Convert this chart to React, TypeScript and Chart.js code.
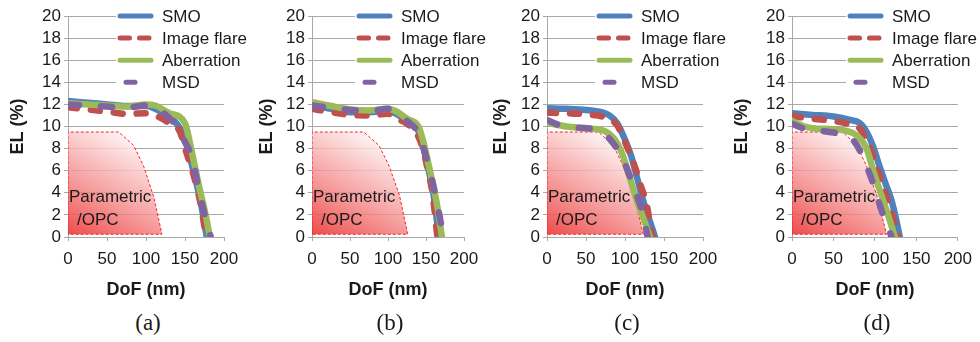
import React, { useEffect, useRef } from 'react';
import { Chart, registerables } from 'chart.js';

Chart.register(...registerables);

type Pt = [number, number];

// Each series: [DoF (nm), EL (%)]
const smoA: Pt[] = [[0, 12.3], [25, 12.15], [50, 12.0], [75, 11.85], [100, 11.85], [120, 11.3], [140, 10.2], [150, 8.9], [160, 6.2], [170, 3.2], [178, 0]];
const flareA: Pt[] = [[0, 11.75], [25, 11.55], [50, 11.35], [75, 11.15], [100, 11.2], [115, 10.9], [130, 10.3], [143, 9.6], [152, 7.6], [161, 5.6], [170, 3.0], [177, 0]];
const aberA: Pt[] = [[0, 12.1], [25, 12.0], [50, 11.9], [75, 11.8], [100, 12.0], [112, 11.9], [130, 11.2], [150, 10.3], [159, 7.6], [168, 4.6], [177, 1.8], [182, 0]];
const msdA: Pt[] = [[0, 12.0], [25, 11.9], [50, 11.8], [75, 11.7], [100, 11.9], [112, 11.7], [128, 10.9], [140, 9.9], [150, 8.6], [159, 7.2], [168, 4.2], [176, 1.8], [183, 0]];

const smoB: Pt[] = [[0, 11.9], [25, 11.6], [50, 11.3], [75, 11.3], [100, 11.4], [112, 11.1], [125, 10.5], [140, 9.6], [152, 6.5], [160, 3.8], [167, 0]];
const flareB: Pt[] = [[0, 11.6], [25, 11.3], [50, 11.05], [75, 11.0], [100, 11.15], [112, 10.7], [125, 10.25], [138, 9.35], [145, 8.2], [152, 6.2], [158.6, 3.9], [165, 0]];
const aberB: Pt[] = [[0, 12.2], [25, 11.85], [50, 11.55], [75, 11.45], [100, 11.6], [110, 11.4], [125, 10.7], [140, 10.0], [147, 8.5], [154, 6.35], [160, 4.5], [165, 2.7], [171, 0]];
const msdB: Pt[] = [[0, 11.9], [25, 11.7], [50, 11.5], [75, 11.4], [100, 11.6], [110, 11.3], [125, 10.5], [139, 9.5], [152, 6.8], [163, 3.6], [173, 0]];

const smoC: Pt[] = [[0, 11.65], [25, 11.6], [50, 11.5], [70, 11.3], [80, 11.0], [90, 10.3], [100, 8.8], [108, 7.3], [115, 5.5], [123, 3.35], [131, 1.6], [138.5, 0]];
const flareC: Pt[] = [[0, 11.25], [25, 11.2], [50, 11.1], [75, 10.8], [90, 10.1], [100, 8.6], [112.5, 6.4], [120, 4.7], [127.5, 3.0], [135, 0]];
const aberC: Pt[] = [[0, 10.35], [25, 10.0], [50, 9.85], [65, 9.75], [75, 9.55], [82, 9.2], [90, 8.5], [97.6, 7.3], [106, 5.4], [114.6, 3.4], [124, 1.6], [132, 0]];
const msdC: Pt[] = [[0, 10.6], [15, 10.15], [40, 9.9], [60, 9.75], [70, 9.5], [80, 8.9], [95.8, 7.27], [106.5, 5.45], [118, 3.2], [124, 1.8], [129, 0]];

const smoD: Pt[] = [[0, 11.2], [25, 11.05], [50, 10.9], [70, 10.6], [82, 10.3], [90, 9.5], [98, 8.15], [106, 6.3], [113, 4.8], [120, 3.3], [125, 1.8], [130, 0]];
const flareD: Pt[] = [[0, 10.95], [25, 10.7], [50, 10.5], [70, 10.2], [80, 9.95], [94, 8.1], [106, 5.4], [118, 2.7], [128, 0]];
const aberD: Pt[] = [[0, 10.5], [15, 10.0], [25, 9.85], [50, 9.75], [66, 9.6], [78, 9.2], [90, 8.0], [98, 6.0], [110, 3.3], [118, 1.5], [124, 0]];
const msdD: Pt[] = [[0, 10.25], [15, 9.8], [25, 9.7], [50, 9.45], [62, 9.3], [72, 8.9], [82, 7.8], [98, 4.8], [108, 2.4], [114, 1.3], [120, 0]];

// Parametric/OPC process window outline (closed polygon)
const regionA: Pt[] = [[0, 0.25], [0, 9.5], [65, 9.5], [84, 8.3], [97, 6.4], [110, 3.6], [120.5, 0.25], [0, 0.25]];
const regionB: Pt[] = [[0, 0.25], [0, 9.5], [68, 9.5], [88, 8.3], [101, 6.5], [115, 3.8], [126, 0.25], [0, 0.25]];
const regionC: Pt[] = [[0, 0.25], [0, 9.5], [66, 9.5], [85, 8.3], [98, 6.4], [112, 3.6], [123.5, 0.25], [0, 0.25]];
const regionD: Pt[] = [[0, 0.25], [0, 9.5], [61, 9.5], [78, 8.3], [90, 6.4], [103, 3.6], [114, 0.25], [0, 0.25]];

const SERIES_NAMES = ['SMO', 'Image flare', 'Aberration', 'MSD'];
const PANEL_TAGS = ['(a)', '(b)', '(c)', '(d)'];
const REGION_TEXT = ['Parametric', '/OPC'];
const X_TICKS = [0, 50, 100, 150, 200];
const Y_TICKS = [0, 2, 4, 6, 8, 10, 12, 14, 16, 18, 20];
const X_TITLE = 'DoF (nm)';
const Y_TITLE = 'EL (%)';

const SERIES_COLORS = ['#4F81BD', '#C0504D', '#9BBB59', '#8064A2'];
const SERIES_DASH: number[][] = [[], [9, 14], [], [11, 22]];
const LEGEND_DASH: number[][] = [[], [9.5, 10], [], [9, 60]];
const LEGEND_START: number[] = [2, 2, 2, 8];
const SANS = '"Liberation Sans", Arial, sans-serif';
const INK = '#1a1a1a';
const GRID = '#a8a8a8';

const PLOT_TOP = 16;
const PLOT_BOTTOM = 237;
const CANVAS_H = 305;
const Y_AXIS_W = 68;

interface PanelSpec {
  tag: string;
  series: Pt[][];
  region: Pt[];
  plotLeft: number;
  plotRight: number;
  rightRoom: number;
  yTitlePad: number;
  legendOffset: number;
}

const PANELS: PanelSpec[] = [
  { tag: PANEL_TAGS[0], series: [smoA, flareA, aberA, msdA], region: regionA, plotLeft: 68, plotRight: 224, rightRoom: 28, yTitlePad: 7.2, legendOffset: 50 },
  { tag: PANEL_TAGS[1], series: [smoB, flareB, aberB, msdB], region: regionB, plotLeft: 312, plotRight: 464, rightRoom: 28, yTitlePad: 11.9, legendOffset: 45 },
  { tag: PANEL_TAGS[2], series: [smoC, flareC, aberC, msdC], region: regionC, plotLeft: 547, plotRight: 703, rightRoom: 28, yTitlePad: 10.9, legendOffset: 50 },
  { tag: PANEL_TAGS[3], series: [smoD, flareD, aberD, msdD], region: regionD, plotLeft: 792, plotRight: 958, rightRoom: 22, yTitlePad: 6.9, legendOffset: 56 },
];

// Legend drawn inside the plot, on a white box, one row per upper gridline
const legendPlugin = {
  id: 'panelLegend',
  afterDraw(chart: any, _args: unknown, opts: { offset: number }) {
    const { ctx, chartArea, scales } = chart;
    const y = scales.y;
    const sx = chartArea.left + opts.offset;
    const rows = SERIES_NAMES.map((_, i) => y.getPixelForValue(Y_TICKS[Y_TICKS.length - 1 - i]));
    ctx.save();
    ctx.fillStyle = '#ffffff';
    ctx.fillRect(sx - 2, rows[0] - 10, chart.width - sx + 2, rows[3] - rows[0] + 20);
    SERIES_NAMES.forEach((name, i) => {
      const yy = rows[i];
      ctx.beginPath();
      ctx.setLineDash(LEGEND_DASH[i]);
      ctx.lineCap = 'round';
      ctx.lineWidth = 5;
      ctx.strokeStyle = SERIES_COLORS[i];
      ctx.moveTo(sx + LEGEND_START[i], yy);
      ctx.lineTo(sx + 33, yy);
      ctx.stroke();
      ctx.setLineDash([]);
      ctx.fillStyle = INK;
      ctx.font = `17px ${SANS}`;
      ctx.textBaseline = 'middle';
      ctx.textAlign = 'left';
      ctx.fillText(name, sx + 44, yy + 1);
    });
    ctx.restore();
  },
};

// Label of the Parametric/OPC window
const regionLabelPlugin = {
  id: 'regionLabel',
  afterDatasetsDraw(chart: any) {
    const { ctx, chartArea } = chart;
    ctx.save();
    ctx.fillStyle = INK;
    ctx.font = `17px ${SANS}`;
    ctx.textBaseline = 'middle';
    ctx.textAlign = 'left';
    ctx.fillText(REGION_TEXT[0], chartArea.left + 1, chartArea.bottom - 40);
    ctx.fillText(REGION_TEXT[1], chartArea.left + 9, chartArea.bottom - 17);
    ctx.restore();
  },
};

function regionFill(c: any) {
  const chart = c.chart;
  const area = chart.chartArea;
  if (!area) return 'rgba(240,90,90,0.6)';
  const g = chart.ctx.createLinearGradient(area.left, area.bottom, area.left + 62, area.bottom - 108);
  g.addColorStop(0, 'rgba(236,52,52,0.9)');
  g.addColorStop(0.45, 'rgba(244,140,140,0.82)');
  g.addColorStop(1, 'rgba(255,255,255,0.85)');
  return g;
}

function buildConfig(spec: PanelSpec): any {
  const lines = spec.series.map((pts, i) => ({
    type: 'line',
    label: SERIES_NAMES[i],
    data: pts.map(([x, y]) => ({ x, y })),
    borderColor: SERIES_COLORS[i],
    backgroundColor: SERIES_COLORS[i],
    borderWidth: 6.5,
    borderDash: SERIES_DASH[i],
    borderCapStyle: 'round',
    borderJoinStyle: 'round',
    pointRadius: 0,
    pointHoverRadius: 0,
    cubicInterpolationMode: 'monotone',
    fill: false,
    order: 3 - i,
  }));
  const region = {
    type: 'line',
    label: REGION_TEXT.join(''),
    data: spec.region.map(([x, y]) => ({ x, y })),
    borderColor: '#ff2020',
    borderWidth: 1,
    borderDash: [3, 2],
    pointRadius: 0,
    pointHoverRadius: 0,
    tension: 0,
    fill: 'shape',
    backgroundColor: regionFill,
    order: 10,
  };
  return {
    type: 'line',
    data: { datasets: [...lines, region] },
    options: {
      animation: false,
      responsive: false,
      devicePixelRatio: 1,
      events: [],
      layout: { padding: { left: 0, right: spec.rightRoom, top: PLOT_TOP, bottom: 0 } },
      plugins: {
        legend: { display: false },
        tooltip: { enabled: false },
        filler: { propagate: false },
        panelLegend: { offset: spec.legendOffset },
      },
      scales: {
        x: {
          type: 'linear',
          min: X_TICKS[0],
          max: X_TICKS[X_TICKS.length - 1],
          afterBuildTicks: (s: any) => { s.ticks = X_TICKS.map((v) => ({ value: v })); },
          afterFit: (s: any) => { s.height = CANVAS_H - PLOT_BOTTOM; },
          ticks: { color: INK, font: { family: SANS, size: 17 }, padding: 8, maxRotation: 0, autoSkip: false },
          grid: { drawOnChartArea: false, drawTicks: true, tickLength: 4, color: GRID },
          border: { color: GRID, width: 1 },
          title: { display: true, text: X_TITLE, color: INK, font: { family: SANS, size: 18, weight: 'bold' }, padding: { top: 0, bottom: 4.2 } },
        },
        y: {
          type: 'linear',
          min: Y_TICKS[0],
          max: Y_TICKS[Y_TICKS.length - 1],
          afterBuildTicks: (s: any) => { s.ticks = Y_TICKS.map((v) => ({ value: v })); },
          afterFit: (s: any) => { s.width = Y_AXIS_W; },
          ticks: { color: INK, font: { family: SANS, size: 17 }, padding: 3, autoSkip: false },
          grid: { drawOnChartArea: true, drawTicks: true, tickLength: 4, color: GRID },
          border: { color: GRID, width: 1 },
          title: { display: true, text: Y_TITLE, color: INK, font: { family: SANS, size: 18, weight: 'bold' }, padding: { top: spec.yTitlePad, bottom: 0 } },
        },
      },
    },
    plugins: [legendPlugin, regionLabelPlugin],
  };
}

function Panel({ spec }: { spec: PanelSpec }) {
  const ref = useRef<HTMLCanvasElement>(null);
  useEffect(() => {
    const canvas = ref.current;
    if (!canvas) return;
    const chart = new Chart(canvas, buildConfig(spec));
    return () => chart.destroy();
  }, [spec]);
  const left = spec.plotLeft - Y_AXIS_W;
  const width = spec.plotRight + spec.rightRoom - left;
  const mid = (spec.plotLeft + spec.plotRight) / 2 + 2;
  return (
    <>
      <canvas
        ref={ref}
        width={width}
        height={CANVAS_H}
        style={{ position: 'absolute', left, top: 0, width, height: CANVAS_H }}
      />
      <div
        style={{
          position: 'absolute',
          left: mid - 40,
          width: 80,
          top: 310,
          height: 26,
          lineHeight: '26px',
          textAlign: 'center',
          fontFamily: '"Liberation Serif", "Times New Roman", serif',
          fontSize: 23,
          color: INK,
        }}
      >
        {spec.tag}
      </div>
    </>
  );
}

export default function App() {
  return (
    <div
      style={{
        position: 'absolute',
        left: 0,
        top: 0,
        width: 980,
        height: 342,
        overflow: 'hidden',
        background: '#ffffff',
      }}
    >
      {PANELS.map((p) => (
        <Panel key={p.tag} spec={p} />
      ))}
    </div>
  );
}
